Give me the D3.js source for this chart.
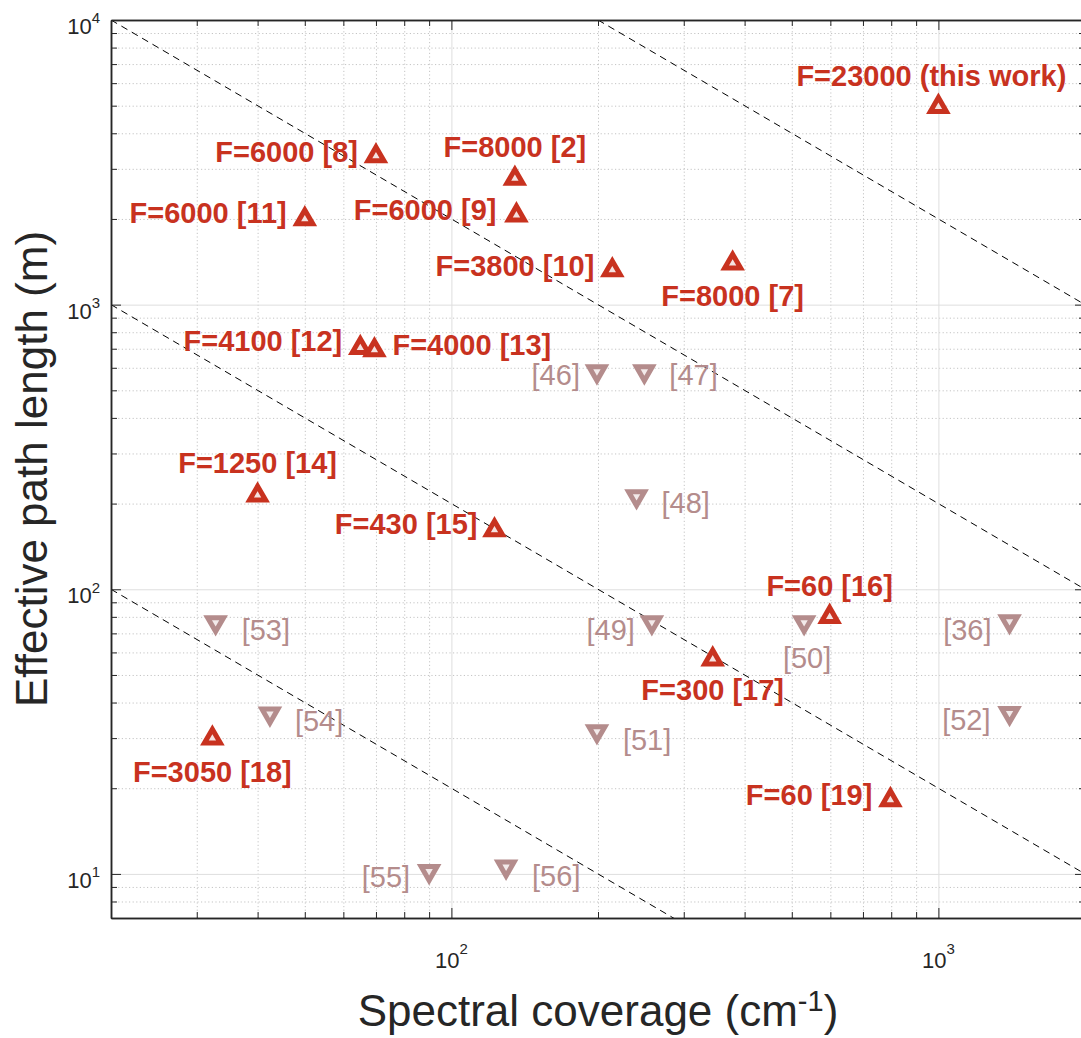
<!DOCTYPE html>
<html><head><meta charset="utf-8">
<script src="https://cdn.jsdelivr.net/npm/d3@7"></script>
<style>body{margin:0;background:#fff} svg{display:block} .ticklab{font-family:'Liberation Sans',Arial,Helvetica,sans-serif;font-size:22px;fill:#262626}</style>
</head><body>
<svg id="chart" width="1081" height="1038"></svg>
<script>
// ---------- data ----------
const xMajorTicks = [100, 1000];
const yMajorTicks = [10, 100, 1000, 10000];
const isoProducts = [2e3, 2e4, 2e5, 2e6];

const redLabels = ["F=23000 (this work)", "F=6000 [8]", "F=8000 [2]", "F=6000 [9]", "F=6000 [11]",
  "F=3800 [10]", "F=8000 [7]", "F=4100 [12]", "F=4000 [13]", "F=1250 [14]", "F=430 [15]",
  "F=60 [16]", "F=300 [17]", "F=3050 [18]", "F=60 [19]"];
const redCoverage = [1000, 70, 135, 136, 50, 214, 378, 65, 69.5, 40, 122.6, 598, 344, 32.3, 797];
const redPathLength = [5100, 3420, 2850, 2120, 2054, 1360, 1436, 725, 712, 220, 166, 82.4, 58.4, 30.8, 18.7];

const greyLabels = ["[46]", "[47]", "[48]", "[49]", "[50]", "[36]", "[52]", "[51]", "[53]", "[54]", "[55]", "[56]"];
const greyCoverage = [199, 249, 240, 258, 530, 1400, 1400, 199, 32.8, 42.4, 90, 129.5];
const greyPathLength = [566, 566, 206, 74.4, 74.4, 75, 35.7, 30.8, 74.4, 35.5, 9.93, 10.3];

// ---------- label placement (pixels relative to marker) ----------
const redLabelLayout = [
  ["middle", -7, -17], ["end", -18, 9], ["middle", 0, -18], ["end", -20, 8], ["end", -18, 7],
  ["end", -18, 9], ["middle", 0, 46], ["end", -18, 7], ["start", 18, 8], ["middle", 0, -19],
  ["end", -17, 7], ["middle", 0, -17], ["middle", 0, 44], ["middle", 0, 47], ["end", -18, 8]];
const greyLabelLayout = [
  ["end", -17, 10], ["start", 25, 10], ["start", 25, 13], ["end", -17, 14], ["middle", 3, 42],
  ["end", -18, 15], ["end", -19, 13], ["start", 26, 15], ["start", 26, 14], ["start", 25, 14],
  ["end", -19, 12], ["start", 26, 16]];

// ---------- setup ----------
const L = 111, R = 1085, T = 20, B = 918;
const RED = "#c8321f", GREY = "#b48c8c", AX = "#262626";
const FONT = "'Liberation Sans', Arial, Helvetica, sans-serif";
const svg = d3.select("#chart");
const x = d3.scaleLog().domain([20, 2000]).range([L, R]);
const y = d3.scaleLog().domain([7, 10000]).range([B, T]);

const xMinor = x.ticks().filter(v => !xMajorTicks.includes(v));
const yMinor = y.ticks().filter(v => !yMajorTicks.includes(v));

svg.append("defs").append("clipPath").attr("id", "plotclip")
  .append("rect").attr("x", L).attr("y", T).attr("width", R - L).attr("height", B - T);

// ---------- grid ----------
function grid(g, axis, minor) {
  g.call(axis);
  g.select(".domain").remove();
  g.selectAll(".tick line").attr("stroke", minor ? "#c4c4c4" : "#dedede")
    .attr("stroke-width", 1).attr("stroke-dasharray", minor ? "1.2,2.4" : null);
  g.selectAll(".tick text").remove();
}
grid(svg.append("g").attr("transform", `translate(0,${B})`),
  d3.axisBottom(x).tickValues(xMinor).tickSize(-(B - T)), true);
grid(svg.append("g").attr("transform", `translate(${L},0)`),
  d3.axisLeft(y).tickValues(yMinor).tickSize(-(R - L)), true);
grid(svg.append("g").attr("transform", `translate(0,${B})`),
  d3.axisBottom(x).tickValues(xMajorTicks).tickSize(-(B - T)), false);
grid(svg.append("g").attr("transform", `translate(${L},0)`),
  d3.axisLeft(y).tickValues(yMajorTicks).tickSize(-(R - L)), false);

// ---------- iso lines ----------
const line = d3.line().x(d => x(d[0])).y(d => y(d[1]));
svg.append("g").attr("clip-path", "url(#plotclip)")
  .selectAll("path").data(isoProducts).join("path")
  .attr("d", p => line([[20, p / 20], [2000, p / 2000]]))
  .attr("fill", "none").attr("stroke", "#000").attr("stroke-width", 1)
  .attr("stroke-dasharray", "7,5");

// ---------- axes (ticks inward, no default labels) ----------
function tickAxis(axis, tx, ty) {
  const g = svg.append("g").attr("transform", `translate(${tx},${ty})`).call(axis);
  g.select(".domain").attr("stroke", AX).attr("stroke-width", 1.5);
  g.selectAll(".tick line").attr("stroke", AX).attr("stroke-width", 1);
  g.selectAll(".tick text").remove();
  return g;
}
tickAxis(d3.axisBottom(x).tickValues(xMajorTicks).tickSizeInner(-10).tickSizeOuter(0), 0, B);
tickAxis(d3.axisBottom(x).tickValues(xMinor).tickSizeInner(-6).tickSizeOuter(0), 0, B);
tickAxis(d3.axisTop(x).tickValues(xMajorTicks).tickSizeInner(-10).tickSizeOuter(0), 0, T);
tickAxis(d3.axisTop(x).tickValues(xMinor).tickSizeInner(-6).tickSizeOuter(0), 0, T);
tickAxis(d3.axisLeft(y).tickValues(yMajorTicks).tickSizeInner(-10).tickSizeOuter(0), L, 0);
tickAxis(d3.axisLeft(y).tickValues(yMinor).tickSizeInner(-6).tickSizeOuter(0), L, 0);
tickAxis(d3.axisRight(y).tickValues(yMajorTicks).tickSizeInner(-10).tickSizeOuter(0), R, 0);
tickAxis(d3.axisRight(y).tickValues(yMinor).tickSizeInner(-6).tickSizeOuter(0), R, 0);

// ---------- tick labels (powers of ten) ----------
const xLab = svg.append("g").selectAll("text").data(xMajorTicks).join("text")
  .attr("class", "ticklab").attr("x", d => x(d)).attr("y", B + 50).attr("text-anchor", "middle");
xLab.append("tspan").text("10");
xLab.append("tspan").text(d => Math.round(Math.log10(d))).attr("dy", -14).style("font-size", "15px");

const yLab = svg.append("g").selectAll("text").data(yMajorTicks).join("text")
  .attr("class", "ticklab").attr("x", L - 11).attr("y", d => y(d) + 14).attr("text-anchor", "end");
yLab.append("tspan").text("10");
yLab.append("tspan").text(d => Math.round(Math.log10(d))).attr("dy", -10.7).style("font-size", "15px");

// ---------- axis titles ----------
const xt = svg.append("text").attr("x", (L + 1081) / 2 + 2).attr("y", 1026)
  .attr("text-anchor", "middle").attr("font-family", FONT).attr("font-size", 44).attr("fill", AX);
xt.append("tspan").text("Spectral coverage (cm");
xt.append("tspan").text("-1").attr("font-size", 29).attr("dy", -15);
xt.append("tspan").text(")").attr("dy", 15);

svg.append("text").attr("transform", `translate(47,${(T + B) / 2}) rotate(-90)`)
  .attr("text-anchor", "middle").attr("font-family", FONT).attr("font-size", 44).attr("fill", AX)
  .text("Effective path length (m)");

// ---------- markers ----------
const s = 16, h = s * Math.sqrt(3) / 2, off = 1.25;
const triUp = `M0,${-h / 2 + off}L${s / 2},${h / 2 + off}L${-s / 2},${h / 2 + off}Z`;
const triDown = `M0,${h / 2 - off}L${s / 2},${-h / 2 - off}L${-s / 2},${-h / 2 - off}Z`;

const greyData = greyLabels.map((lab, i) => ({ lab, xv: greyCoverage[i], yv: greyPathLength[i], lay: greyLabelLayout[i] }));
const redData = redLabels.map((lab, i) => ({ lab, xv: redCoverage[i], yv: redPathLength[i], lay: redLabelLayout[i] }));

svg.append("g").selectAll("path").data(greyData).join("path")
  .attr("d", triDown).attr("transform", d => `translate(${x(d.xv)},${y(d.yv)})`)
  .attr("fill", "#f3eaea").attr("stroke", GREY).attr("stroke-width", 5).attr("stroke-linejoin", "miter");
svg.append("g").selectAll("path").data(redData).join("path")
  .attr("d", triUp).attr("transform", d => `translate(${x(d.xv)},${y(d.yv)})`)
  .attr("fill", "#f5e2e0").attr("stroke", RED).attr("stroke-width", 5).attr("stroke-linejoin", "miter");

// ---------- labels ----------
svg.append("g").selectAll("text").data(greyData).join("text")
  .attr("x", d => x(d.xv) + d.lay[1]).attr("y", d => y(d.yv) + d.lay[2])
  .attr("text-anchor", d => d.lay[0]).attr("font-family", FONT).attr("font-size", 29)
  .attr("fill", GREY).text(d => d.lab);
svg.append("g").selectAll("text").data(redData).join("text")
  .attr("x", d => x(d.xv) + d.lay[1]).attr("y", d => y(d.yv) + d.lay[2])
  .attr("text-anchor", d => d.lay[0]).attr("font-family", FONT).attr("font-size", 29)
  .attr("font-weight", "bold").attr("fill", RED).text(d => d.lab);
</script>
</body></html>
